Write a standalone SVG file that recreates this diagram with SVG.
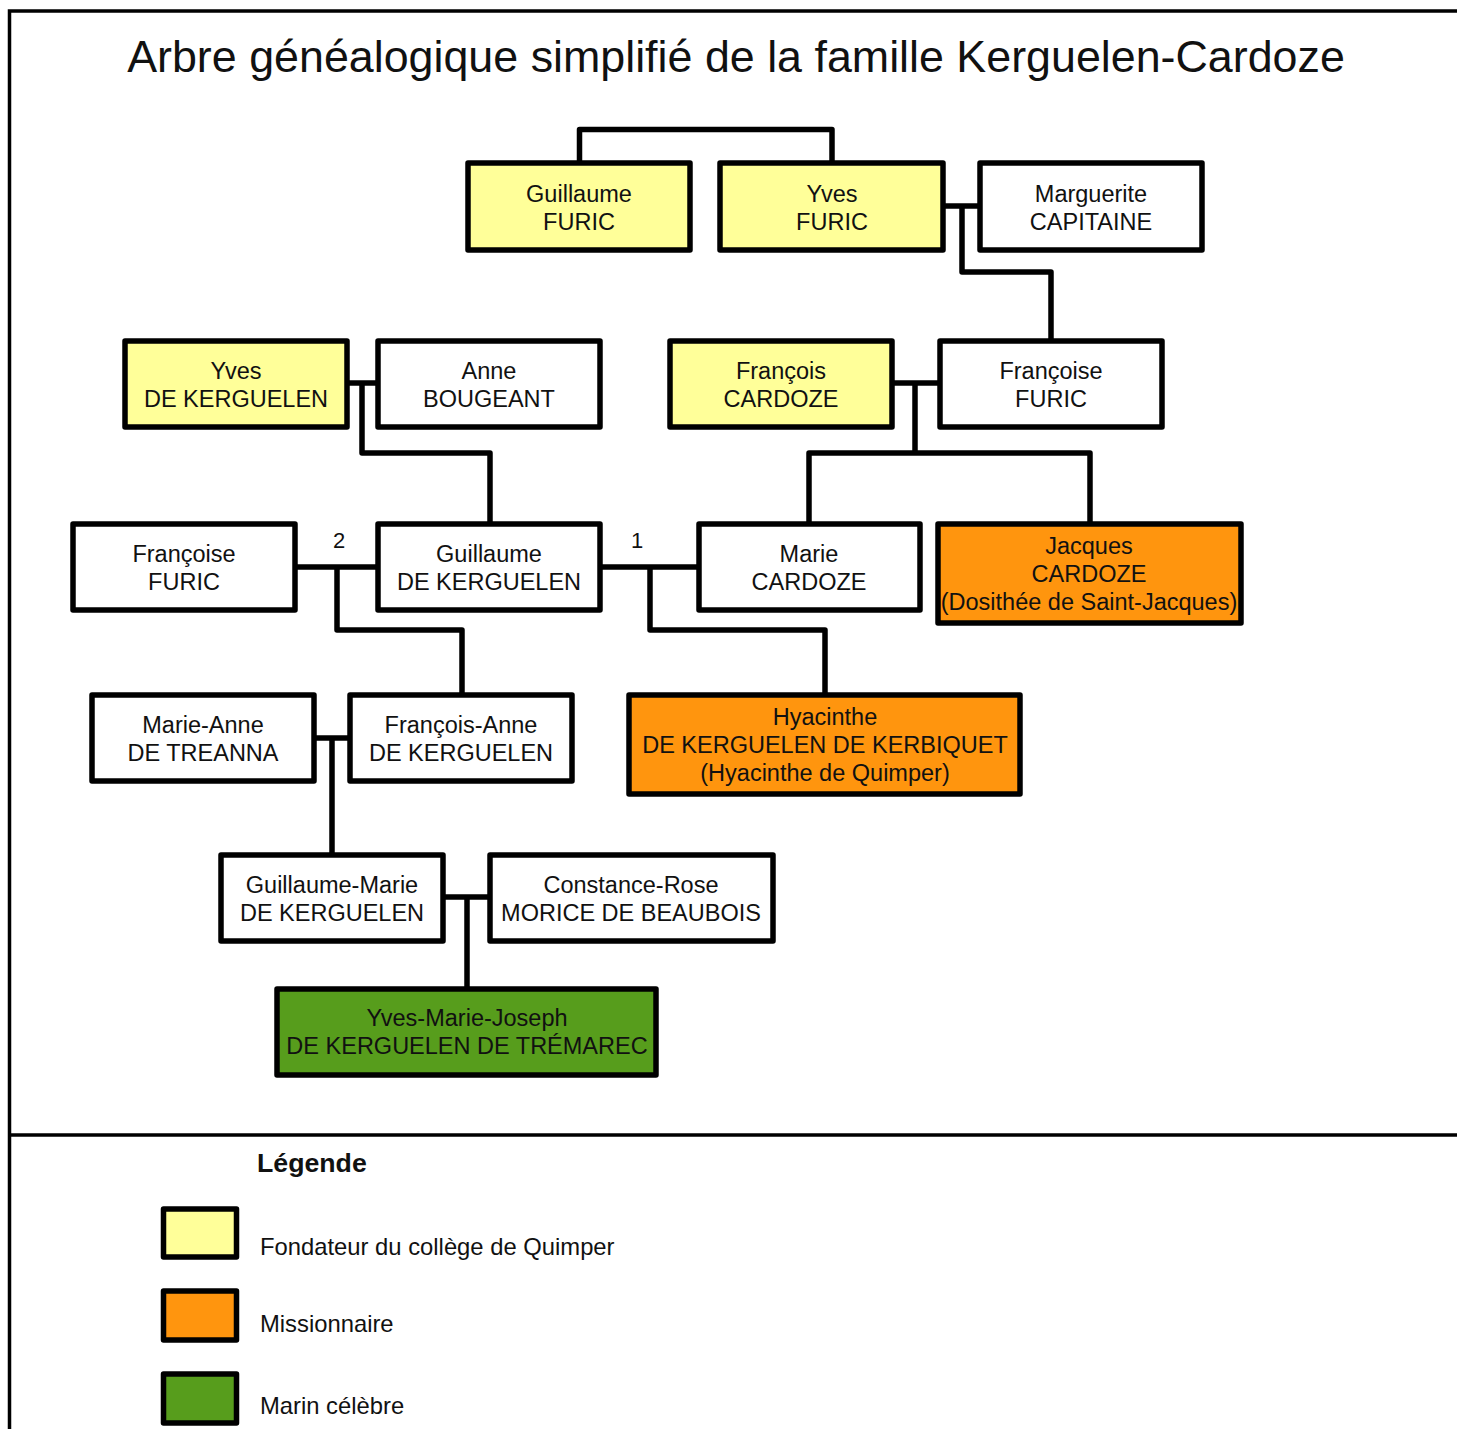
<svg xmlns="http://www.w3.org/2000/svg" width="1457" height="1429" viewBox="0 0 1457 1429">
<style>
.n{stroke:#000;stroke-width:5.5;stroke-linejoin:round;fill:#fff}
.y{fill:#ffff99}
.o{fill:#ff950e}
.g{fill:#579d1c}
text{font-family:"Liberation Sans",Arial,sans-serif;fill:#111}
.t{font-size:23.5px;text-anchor:middle}
.c{fill:none;stroke:#000;stroke-width:5.5;stroke-linejoin:round}
.lg{font-size:23.8px}
.lh{font-size:26.7px;font-weight:bold}
</style>
<rect width="1457" height="1429" fill="#fff"/>
<g id="frame" fill="none" stroke="#000" stroke-width="3.5">
<path d="M9.5 1429V11H1457"/>
<path d="M9.5 1135H1457"/>
</g>
<text id="title" x="736" y="72" font-size="44.8" text-anchor="middle">Arbre généalogique simplifié de la famille Kerguelen-Cardoze</text>
<g id="connectors" class="c">
<path d="M579.5 163V129.5H832V163"/>
<path d="M943 206H980M962 206V272H1051V341"/>
<path d="M347 383H378M362 383V453H490V524"/>
<path d="M892 383H940M915 383V453M809 524V453H1090V524"/>
<path d="M295 567H378M337 567V630H462V695"/>
<path d="M600 567H699M650 567V630H825V695"/>
<path d="M314 738H350M332 738V855"/>
<path d="M443 897H490M467 897V989"/>
</g>
<g id="marriage-labels">
<text x="339" y="548" font-size="22" text-anchor="middle">2</text>
<text x="637" y="548" font-size="22" text-anchor="middle">1</text>
</g>
<g id="guillaume-furic"><rect class="n y" x="468" y="163" width="222" height="87"/><text class="t" x="579" y="202">Guillaume</text><text class="t" x="579" y="230">FURIC</text></g>
<g id="yves-furic"><rect class="n y" x="720" y="163" width="223" height="87"/><text class="t" x="832" y="202">Yves</text><text class="t" x="832" y="230">FURIC</text></g>
<g id="marguerite-capitaine"><rect class="n" x="980" y="163" width="222" height="87"/><text class="t" x="1091" y="202">Marguerite</text><text class="t" x="1091" y="230">CAPITAINE</text></g>
<g id="yves-de-kerguelen"><rect class="n y" x="125" y="341" width="222" height="86"/><text class="t" x="236" y="379">Yves</text><text class="t" x="236" y="407">DE KERGUELEN</text></g>
<g id="anne-bougeant"><rect class="n" x="378" y="341" width="222" height="86"/><text class="t" x="489" y="379">Anne</text><text class="t" x="489" y="407">BOUGEANT</text></g>
<g id="francois-cardoze"><rect class="n y" x="670" y="341" width="222" height="86"/><text class="t" x="781" y="379">François</text><text class="t" x="781" y="407">CARDOZE</text></g>
<g id="francoise-furic-1"><rect class="n" x="940" y="341" width="222" height="86"/><text class="t" x="1051" y="379">Françoise</text><text class="t" x="1051" y="407">FURIC</text></g>
<g id="francoise-furic-2"><rect class="n" x="73" y="524" width="222" height="86"/><text class="t" x="184" y="562">Françoise</text><text class="t" x="184" y="590">FURIC</text></g>
<g id="guillaume-de-kerguelen"><rect class="n" x="378" y="524" width="222" height="86"/><text class="t" x="489" y="562">Guillaume</text><text class="t" x="489" y="590">DE KERGUELEN</text></g>
<g id="marie-cardoze"><rect class="n" x="699" y="524" width="221" height="86"/><text class="t" x="809" y="562">Marie</text><text class="t" x="809" y="590">CARDOZE</text></g>
<g id="jacques-cardoze"><rect class="n o" x="938" y="524" width="303" height="99"/><text class="t" x="1089" y="554">Jacques</text><text class="t" x="1089" y="582">CARDOZE</text><text class="t" x="1089" y="610">(Dosithée de Saint-Jacques)</text></g>
<g id="marie-anne-de-treanna"><rect class="n" x="92" y="695" width="222" height="86"/><text class="t" x="203" y="733">Marie-Anne</text><text class="t" x="203" y="761">DE TREANNA</text></g>
<g id="francois-anne-de-kerguelen"><rect class="n" x="350" y="695" width="222" height="86"/><text class="t" x="461" y="733">François-Anne</text><text class="t" x="461" y="761">DE KERGUELEN</text></g>
<g id="hyacinthe"><rect class="n o" x="629" y="695" width="391" height="99"/><text class="t" x="825" y="725">Hyacinthe</text><text class="t" x="825" y="753">DE KERGUELEN DE KERBIQUET</text><text class="t" x="825" y="781">(Hyacinthe de Quimper)</text></g>
<g id="guillaume-marie-de-kerguelen"><rect class="n" x="221" y="855" width="222" height="86"/><text class="t" x="332" y="893">Guillaume-Marie</text><text class="t" x="332" y="921">DE KERGUELEN</text></g>
<g id="constance-rose"><rect class="n" x="490" y="855" width="283" height="86"/><text class="t" x="631" y="893">Constance-Rose</text><text class="t" x="631" y="921">MORICE DE BEAUBOIS</text></g>
<g id="yves-marie-joseph"><rect class="n g" x="277" y="989" width="379" height="86"/><text class="t" x="467" y="1026">Yves-Marie-Joseph</text><text class="t" x="467" y="1054">DE KERGUELEN DE TRÉMAREC</text></g>
<g id="legend">
<text class="lh" x="257" y="1172">Légende</text>
<rect class="n y" x="163.5" y="1209" width="73" height="48"/>
<text class="lg" x="260" y="1255">Fondateur du collège de Quimper</text>
<rect class="n o" x="163.5" y="1291" width="73" height="49"/>
<text class="lg" x="260" y="1332">Missionnaire</text>
<rect class="n g" x="163.5" y="1374" width="73" height="49"/>
<text class="lg" x="260" y="1414">Marin célèbre</text>
</g>
</svg>
